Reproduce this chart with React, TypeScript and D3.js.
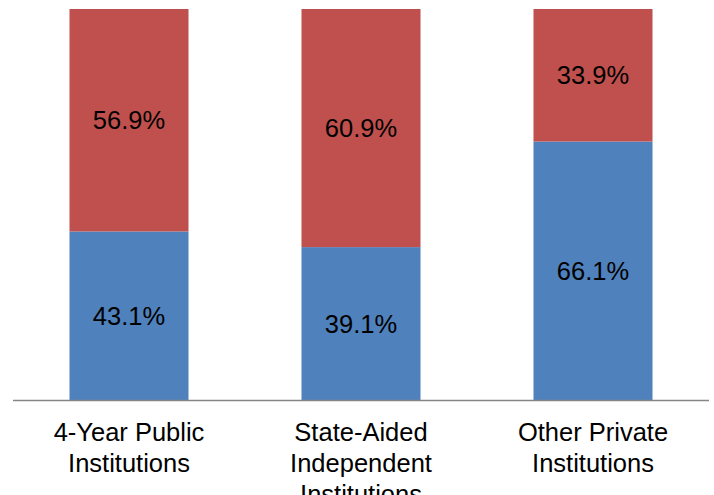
import { useEffect, useRef } from 'react';
import * as d3 from 'd3';

const categories = ['4-Year Public Institutions', 'State-Aided Independent Institutions', 'Other Private Institutions'];
const categoryLines = [
  ['4-Year Public', 'Institutions'],
  ['State-Aided', 'Independent', 'Institutions'],
  ['Other Private', 'Institutions'],
];
const bottomSeries = [43.1, 39.1, 66.1];
const topSeries = [56.9, 60.9, 33.9];
const seriesKeys = ['bottom', 'top'] as const;
const seriesColors = ['#4F81BD', '#C0504D'];

type Row = { cat: string; bottom: number; top: number };

export default function App() {
  const ref = useRef<SVGSVGElement>(null);

  useEffect(() => {
    if (!ref.current) return;
    const W = 714, H = 495;
    const margin = { top: 9, right: 5, bottom: 95, left: 13 };

    const rows: Row[] = categories.map((c, i) => ({ cat: c, bottom: bottomSeries[i], top: topSeries[i] }));
    const series = d3.stack<Row>().keys(seriesKeys as unknown as string[])(rows);

    const x = d3.scaleBand<string>()
      .domain(categories)
      .range([margin.left, W - margin.right])
      .paddingInner(0.487)
      .paddingOuter(0.2435);
    const y = d3.scaleLinear().domain([0, 100]).range([H - margin.bottom, margin.top]);
    const color = d3.scaleOrdinal<string, string>().domain(seriesKeys as unknown as string[]).range(seriesColors);

    const svg = d3.select(ref.current);
    svg.selectAll('*').remove();

    const groups = svg.selectAll('g.series')
      .data(series)
      .enter()
      .append('g')
      .attr('class', 'series')
      .attr('fill', d => color(d.key));

    groups.selectAll('rect')
      .data(d => d)
      .enter()
      .append('rect')
      .attr('x', d => x(d.data.cat)!)
      .attr('width', x.bandwidth())
      .attr('y', d => y(d[1]))
      .attr('height', d => y(d[0]) - y(d[1]));

    groups.selectAll('text')
      .data(d => d)
      .enter()
      .append('text')
      .attr('x', d => x(d.data.cat)! + x.bandwidth() / 2)
      .attr('y', d => (y(d[0]) + y(d[1])) / 2)
      .attr('dy', '0.36em')
      .attr('text-anchor', 'middle')
      .attr('fill', '#000')
      .attr('font-family', 'Arial, "Liberation Sans", sans-serif')
      .attr('font-size', 25.5)
      .text(d => (d[1] - d[0]).toFixed(1) + '%');

    // category axis line
    svg.append('line')
      .attr('x1', margin.left)
      .attr('x2', W - margin.right)
      .attr('y1', y(0) + 0.5)
      .attr('y2', y(0) + 0.5)
      .attr('stroke', '#868686')
      .attr('stroke-width', 1.5);

    const labels = svg.append('g')
      .attr('font-family', 'Arial, "Liberation Sans", sans-serif')
      .attr('font-size', 25.5)
      .attr('fill', '#000')
      .attr('text-anchor', 'middle');

    categories.forEach((c, i) => {
      const t = labels.append('text')
        .attr('x', x(c)! + x.bandwidth() / 2)
        .attr('y', y(0) + 41);
      categoryLines[i].forEach((line, j) => {
        t.append('tspan')
          .attr('x', x(c)! + x.bandwidth() / 2)
          .attr('dy', j === 0 ? 0 : 31)
          .text(line);
      });
    });
  }, []);

  return (
    <svg
      ref={ref}
      width={714}
      height={495}
      style={{ position: 'absolute', left: 0, top: 0, background: '#fff', overflow: 'hidden' }}
    />
  );
}
